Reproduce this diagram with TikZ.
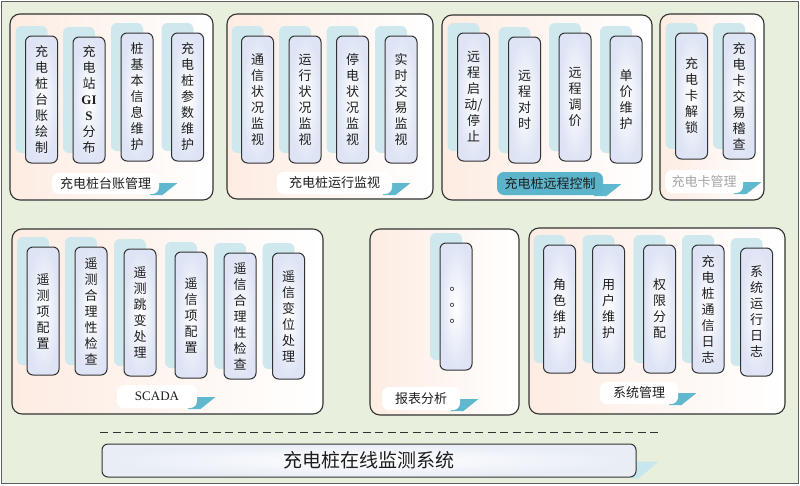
\documentclass[tikz,border=0pt]{standalone}
\usepackage{fontspec}
\setmainfont{Noto Sans CJK SC}
\newfontfamily\lserif{Liberation Serif}
\definecolor{bgC}{RGB}{232,240,221}
\definecolor{frameC}{RGB}{95,95,95}
\definecolor{lineC}{RGB}{50,50,50}
\definecolor{peachC}{RGB}{253,236,226}
\definecolor{shC}{RGB}{206,232,238}
\definecolor{itemC}{RGB}{222,228,245}
\definecolor{tabC}{RGB}{96,184,206}
\definecolor{labB}{RGB}{92,180,202}
\definecolor{barshC}{RGB}{200,230,238}
\definecolor{barC}{RGB}{232,237,246}
\definecolor{txtC}{RGB}{30,30,30}
\definecolor{grayT}{RGB}{165,165,165}
\pgfdeclarelayer{back}
\pgfdeclarelayer{mid}
\pgfsetlayers{back,mid,main}
\begin{document}
\begin{tikzpicture}[x=1pt,y=-1pt,
  frame/.style={draw=frameC, line width=1.5pt, fill=bgC, inner sep=0pt},
  grp/.style={draw=lineC, line width=1.1pt, rounded corners=10pt, left color=peachC, right color=white, inner sep=0pt},
  item/.style={draw=lineC, line width=1pt, rounded corners=6pt, inner color=white, outer color=itemC,
    minimum width=32pt, inner sep=0pt, align=center, text=txtC, font=\fontsize{13}{16}\selectfont,
    preaction={fill=shC, draw=none, transform canvas={shift={(-10pt,10pt)}}}},
  lab/.style={fill=white, rounded corners=7pt, inner sep=0pt, text=txtC, font=\fontsize{13}{15}\selectfont},
  bar/.style={draw=lineC, line width=1pt, rounded corners=6pt, inner color=white, outer color=barC,
    inner sep=0pt, text=txtC, font=\fontsize{19}{21}\selectfont},
  dashline/.style={draw=lineC, line width=1pt, dash pattern=on 8pt off 4.5pt}
]
\useasboundingbox (0,0) rectangle (800,485);
\begin{pgfonlayer}{back}
\node[frame, minimum width=797pt, minimum height=482pt] (frm) at (400,242.5) {};
\node[grp, minimum width=203pt, minimum height=186pt] (G1) at (111.5,107) {};
\node[grp, minimum width=206pt, minimum height=185pt] (G2) at (330,106.5) {};
\node[grp, minimum width=210pt, minimum height=185pt] (G3) at (547,107.5) {};
\node[grp, minimum width=104pt, minimum height=186pt] (G4) at (712,107) {};
\node[grp, minimum width=311pt, minimum height=185pt] (G5) at (167.5,321.5) {};
\node[grp, minimum width=149pt, minimum height=186pt] (G6) at (444.5,322) {};
\node[grp, minimum width=256pt, minimum height=186pt] (G7) at (657,321) {};
\end{pgfonlayer}

% group 1
\node[item, minimum height=127pt] (a1) at (41.5,99.5) {充\\电\\桩\\台\\账\\绘\\制};
\node[item, minimum height=126pt] (a2) at (89,100) {充\\电\\站\\{\lserif\bfseries GI}\\{\lserif\bfseries S}\\分\\布};
\node[item, minimum height=128pt] (a3) at (137,97) {桩\\基\\本\\信\\息\\维\\护};
\node[item, minimum height=128pt] (a4) at (187.5,97) {充\\电\\桩\\参\\数\\维\\护};
% group 2
\node[item, minimum height=127pt] (b1) at (257.5,99.5) {通\\信\\状\\况\\监\\视};
\node[item, minimum height=127pt] (b2) at (305,99.5) {运\\行\\状\\况\\监\\视};
\node[item, minimum height=127pt] (b3) at (352.5,99.5) {停\\电\\状\\况\\监\\视};
\node[item, minimum height=127pt] (b4) at (401,99.5) {实\\时\\交\\易\\监\\视};
% group 3
\node[item, minimum height=128pt] (c1) at (473.5,97) {远\\程\\启\\动/\\停\\止};
\node[item, minimum height=126pt] (c2) at (524.5,100) {远\\程\\对\\时};
\node[item, minimum height=128pt] (c3) at (575,97) {远\\程\\调\\价};
\node[item, minimum height=127pt] (c4) at (626,99.5) {单\\价\\维\\护};
% group 4
\node[item, minimum height=126pt] (d1) at (691.5,96) {充\\电\\卡\\解\\锁};
\node[item, minimum height=126pt] (d2) at (739,96) {充\\电\\卡\\交\\易\\稽\\查};
% group 5
\node[item, minimum height=128pt] (e1) at (43,311) {遥\\测\\项\\配\\置};
\node[item, minimum height=128pt] (e2) at (91,311) {遥\\测\\合\\理\\性\\检\\查};
\node[item, minimum height=127pt] (e3) at (140,312.5) {遥\\测\\跳\\变\\处\\理};
\node[item, minimum height=126pt] (e4) at (191,315) {遥\\信\\项\\配\\置};
\node[item, minimum height=126pt] (e5) at (240,316) {遥\\信\\合\\理\\性\\检\\查};
\node[item, minimum height=126pt] (e6) at (288.5,316) {遥\\信\\变\\位\\处\\理};
% group 6
\node[item, minimum height=127pt] (f1) at (456,306.5) {\raisebox{3.5pt}{。}\\\raisebox{3.5pt}{。}\\\raisebox{3.5pt}{。}};
% group 7
\node[item, minimum height=128pt] (g1) at (559.5,309) {角\\色\\维\\护};
\node[item, minimum height=128pt] (g2) at (608.5,309) {用\\户\\维\\护};
\node[item, minimum height=128pt] (g3) at (659.5,309) {权\\限\\分\\配};
\node[item, minimum height=128pt] (g4) at (708,309) {充\\电\\桩\\通\\信\\日\\志};
\node[item, minimum height=128pt] (g5) at (756.5,312) {系\\统\\运\\行\\日\\志};

% labels
\node[lab, minimum width=107pt, minimum height=21pt] (L1) at (105.5,183.5) {充电桩台账管理};
\node[lab, minimum width=115pt, minimum height=22pt] (L2) at (334.5,183) {充电桩运行监视};
\node[lab, fill=labB, minimum width=106pt, minimum height=23pt] (L3) at (550,183.5) {充电桩远程控制};
\node[lab, text=grayT, minimum width=78pt, minimum height=23pt] (L4) at (704,181.5) {充电卡管理};
\node[lab, font=\lserif\fontsize{13}{15}\selectfont, minimum width=80pt, minimum height=23pt] (L5) at (157,396.5) {SCADA};
\node[lab, minimum width=78pt, minimum height=23pt] (L6) at (421,398.5) {报表分析};
\node[lab, minimum width=78pt, minimum height=22pt] (L7) at (639,393) {系统管理};

\begin{pgfonlayer}{mid}
\foreach \n in {L1,L2,L3,L4,L5,L6,L7}{
  \fill[tabC] ([shift={(-9,-11)}]\n.south east) -- ([shift={(18,-11)}]\n.south east)
     -- ([shift={(3,1)}]\n.south east) -- ([shift={(-9,1)}]\n.south east) -- cycle;
}
\end{pgfonlayer}

% dashed separator
\coordinate (dl) at (100,432);
\coordinate (dr) at (658,432);
\draw[dashline] (dl) -- (dr);

% bottom bar
\node[bar, minimum width=534pt, minimum height=33pt] (sys) at (369,460.5) {充电桩在线监测系统};
\begin{pgfonlayer}{mid}
\fill[barshC] ([shift={(-6,-16)}]sys.south east) -- ([shift={(22,-16)}]sys.south east)
   -- ([shift={(2,1)}]sys.south east) -- ([shift={(-6,1)}]sys.south east) -- cycle;
\end{pgfonlayer}
\end{tikzpicture}
\end{document}
